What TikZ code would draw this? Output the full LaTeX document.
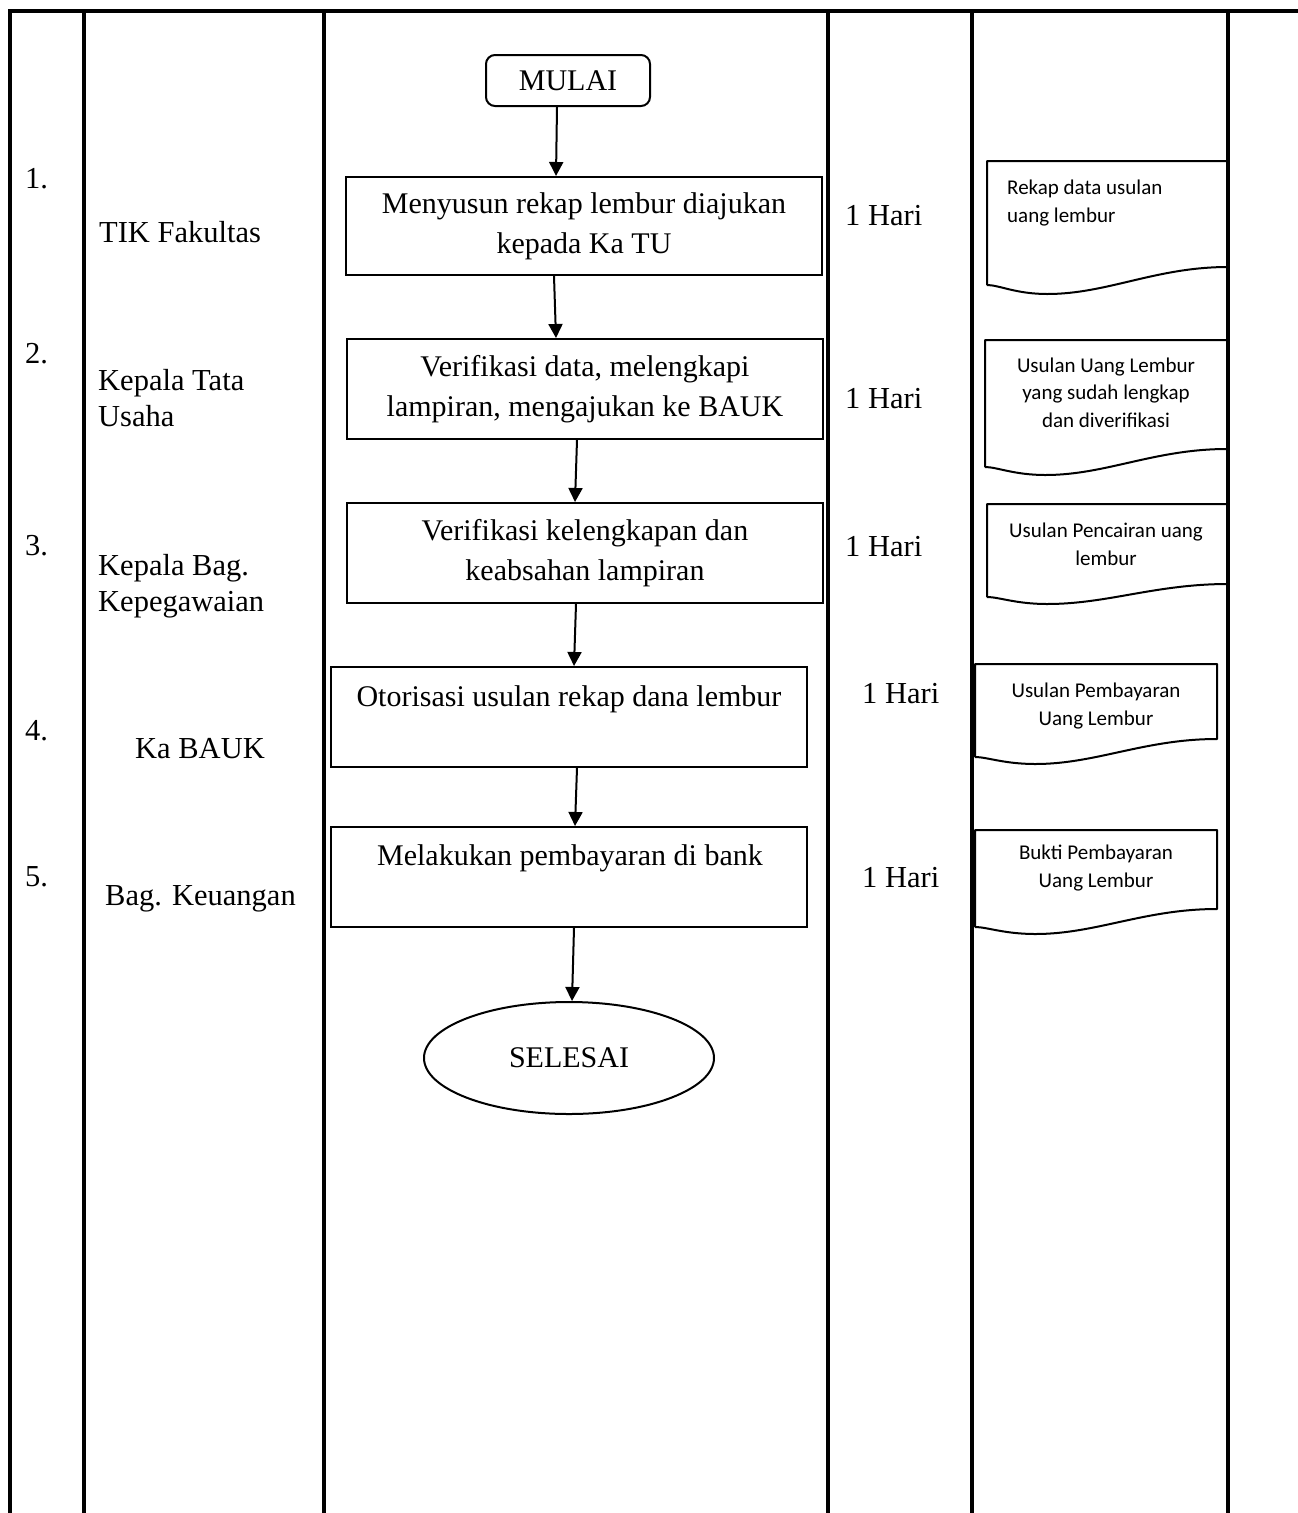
\documentclass[tikz,border=0pt]{standalone}
\usepackage{fontspec}
\setmainfont{Liberation Serif}
\newfontfamily\carlito{Carlito}
\usetikzlibrary{arrows.meta,shapes.geometric}
\newcommand\docpath[6]{%
  \draw[docline] (#1,#6) -- (#1,#2) -- (#3,#2) -- (#3,#4)
    .. controls ({#3-0.3*(#3-#1)},#4) and ({#1+0.5*(#3-#1)},#5) .. ({#1+0.25*(#3-#1)},#5)
    .. controls ({#1+0.12*(#3-#1)},#5) and ({#1+0.05*(#3-#1)},#6) .. (#1,#6);}
\begin{document}
\begin{tikzpicture}[x=1pt,y=-1pt,
  tbl/.style={line width=3.5pt},
  box/.style={draw,line width=2pt,minimum width=476pt,minimum height=100pt,inner sep=0pt,align=center,font=\fontsize{30}{40}\selectfont},
  term/.style={draw,line width=2pt,inner sep=0pt,font=\fontsize{30}{36}\selectfont},
  arr/.style={line width=2pt,-{Triangle[width=14pt,length=14pt]}},
  lbl/.style={anchor=base west,inner sep=0pt,font=\fontsize{30.5}{36}\selectfont,align=left},
  ptxt/.style={anchor=base,inner sep=0pt,font=\fontsize{30}{36}\selectfont},
  docline/.style={line width=2pt,line join=round},
  dtxt/.style={anchor=base,inner sep=0pt,font=\carlito\fontsize{21}{27.5}\selectfont,align=center}
]
\useasboundingbox (0,0) rectangle (1298,1513);
\fill[white] (0,0) rectangle (1298,1513);
% table
\draw[tbl] (10,1520) -- (10,11) -- (1300,11);
\foreach \x in {84,324,828,972,1228} \draw[tbl] (\x,11) -- (\x,1520);

% numbers and actors (base anchor = baseline of last line)
\node[lbl] (n1) at (25,188) {1.};
\node[lbl] (a1) at (99,242) {TIK Fakultas};
\node[lbl] (n2) at (25,363) {2.};
\node[lbl] (a2) at (98,426) {Kepala Tata\\Usaha};
\node[lbl] (n3) at (25,555) {3.};
\node[lbl] (a3) at (98,611) {Kepala Bag.\\Kepegawaian};
\node[lbl] (n4) at (25,740) {4.};
\node[lbl] (a4) at (135,758) {Ka BAUK};
\node[lbl] (n5) at (25,886) {5.};
\node[lbl] (a5) at (105,905) {Bag. Keuangan};

% flow
\node[term,rounded corners=9pt,minimum width=164pt,minimum height=51pt] (m) at (568,80.5) {MULAI};
\node[box,minimum height=98pt] (b1) at (584,226) {Menyusun rekap lembur diajukan\\kepada Ka TU};
\node[box] (b2) at (585,389) {Verifikasi data, melengkapi\\lampiran, mengajukan ke BAUK};
\node[box] (b3) at (585,553) {Verifikasi kelengkapan dan\\keabsahan lampiran};
\node[box] (b4) at (569,717) {};
\node[ptxt] (t4) at (569,706) {Otorisasi usulan rekap dana lembur};
\node[box] (b5) at (569,877) {};
\node[ptxt] (t5) at (570,865) {Melakukan pembayaran di bank};
\node[term,ellipse,minimum width=290pt,minimum height=112pt] (s) at (569,1058) {SELESAI};

\draw[arr] ([xshift=-11pt]m.south) -- ([xshift=-28pt]b1.north);
\draw[arr] ([xshift=-30pt]b1.south) -- ([xshift=-29pt]b2.north);
\draw[arr] ([xshift=-8pt]b2.south) -- ([xshift=-10pt]b3.north);
\draw[arr] ([xshift=-9pt]b3.south) -- ([xshift=5pt]b4.north);
\draw[arr] ([xshift=8pt]b4.south) -- ([xshift=6pt]b5.north);
\draw[arr] ([xshift=5pt]b5.south) -- ([xshift=3pt]s.north);

% durations
\node[lbl] (h1) at (845,225) {1 Hari};
\node[lbl] (h2) at (845,408) {1 Hari};
\node[lbl] (h3) at (845,556) {1 Hari};
\node[lbl] (h4) at (862,703) {1 Hari};
\node[lbl] (h5) at (862,887) {1 Hari};

% documents
\docpath{987}{161}{1228}{267}{294}{285}
\node[dtxt,anchor=base west,align=left] (d1) at (1007,222) {Rekap data usulan\\uang lembur};
\docpath{985}{340}{1227}{449}{475}{467}
\node[dtxt] (d2) at (1106,427) {Usulan Uang Lembur\\yang sudah lengkap\\dan diverifikasi};
\docpath{987}{504}{1228}{584}{604}{597}
\node[dtxt] (d3) at (1106,565) {Usulan Pencairan uang\\lembur};
\docpath{975}{664}{1217}{739}{764}{757}
\node[dtxt] (d4) at (1096,725) {Usulan Pembayaran\\Uang Lembur};
\docpath{975}{830}{1217}{909}{934}{927}
\node[dtxt] (d5) at (1096,887) {Bukti Pembayaran\\Uang Lembur};
\end{tikzpicture}
\end{document}
